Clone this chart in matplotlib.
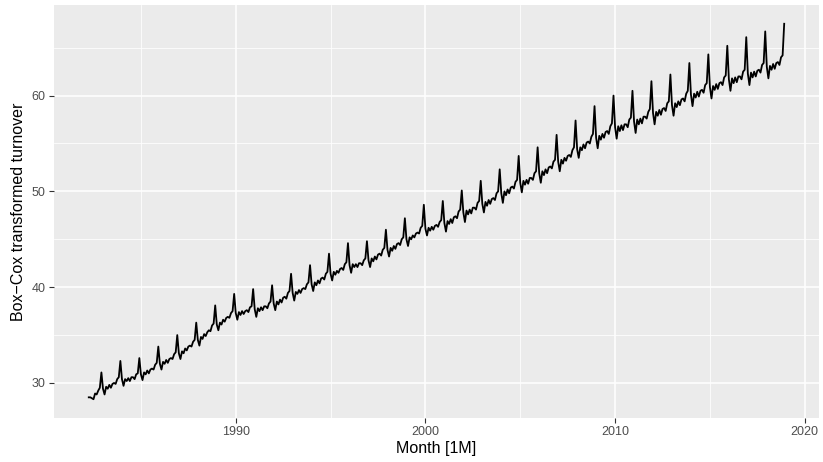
import matplotlib

matplotlib.use('Agg')

import matplotlib.pyplot as plt
import numpy as np

# monthly values, April 1982 to December 2018
first_year = 1982
first_month = 4
turnover = [
    28.5, 28.5, 28.4, 28.3, 28.9, 28.8, 29.2, 29.5, 31.1,                       # 1982 Apr-Dec
    29.4, 28.8, 29.6, 29.4, 29.8, 29.5, 29.9, 30.0, 29.9, 30.4, 30.6, 32.3,     # 1983
    30.4, 29.7, 30.4, 30.2, 30.5, 30.2, 30.6, 30.6, 30.4, 30.9, 31.0, 32.6,     # 1984
    30.9, 30.3, 31.1, 30.9, 31.3, 31.0, 31.4, 31.5, 31.4, 31.9, 32.1, 33.8,     # 1985
    32.0, 31.4, 32.2, 32.0, 32.4, 32.1, 32.5, 32.6, 32.5, 33.0, 33.2, 35.0,     # 1986
    33.1, 32.5, 33.3, 33.1, 33.6, 33.4, 33.8, 33.9, 33.8, 34.3, 34.5, 36.3,     # 1987
    34.5, 33.9, 34.8, 34.6, 35.1, 34.9, 35.3, 35.5, 35.4, 36.0, 36.2, 38.1,     # 1988
    36.1, 35.5, 36.3, 36.1, 36.6, 36.4, 36.8, 36.9, 36.8, 37.3, 37.5, 39.3,     # 1989
    37.3, 36.6, 37.4, 37.1, 37.5, 37.2, 37.5, 37.6, 37.4, 37.9, 38.0, 39.8,     # 1990
    37.7, 36.9, 37.8, 37.5, 37.9, 37.6, 38.0, 38.0, 37.8, 38.3, 38.5, 40.2,     # 1991
    38.3, 37.6, 38.5, 38.2, 38.7, 38.4, 38.9, 39.0, 38.8, 39.4, 39.6, 41.4,     # 1992
    39.4, 38.6, 39.5, 39.3, 39.7, 39.4, 39.8, 39.9, 39.8, 40.3, 40.5, 42.3,     # 1993
    40.3, 39.6, 40.5, 40.2, 40.7, 40.4, 40.9, 41.0, 40.8, 41.4, 41.6, 43.5,     # 1994
    41.4, 40.7, 41.6, 41.3, 41.7, 41.5, 41.9, 42.0, 41.8, 42.4, 42.6, 44.6,     # 1995
    42.3, 41.5, 42.4, 42.1, 42.4, 42.1, 42.5, 42.5, 42.3, 42.8, 43.0, 44.8,     # 1996
    42.8, 42.1, 43.0, 42.7, 43.2, 42.9, 43.4, 43.5, 43.3, 43.9, 44.1, 46.0,     # 1997
    43.9, 43.2, 44.1, 43.8, 44.3, 44.0, 44.5, 44.6, 44.4, 45.0, 45.2, 47.2,     # 1998
    45.0, 44.3, 45.2, 45.0, 45.4, 45.2, 45.6, 45.7, 45.6, 46.2, 46.4, 48.6,     # 1999
    46.1, 45.4, 46.2, 45.9, 46.3, 46.0, 46.4, 46.5, 46.3, 46.8, 47.0, 49.0,     # 2000
    46.7, 45.8, 46.9, 46.6, 47.1, 46.7, 47.3, 47.4, 47.2, 47.9, 48.1, 50.1,     # 2001
    47.8, 46.8, 48.0, 47.6, 48.1, 47.7, 48.3, 48.3, 48.1, 48.8, 49.0, 51.1,     # 2002
    48.7, 47.8, 48.9, 48.5, 49.1, 48.7, 49.2, 49.3, 49.1, 49.8, 50.0, 52.3,     # 2003
    49.8, 48.8, 50.0, 49.6, 50.2, 49.8, 50.4, 50.5, 50.3, 51.0, 51.2, 53.7,     # 2004
    50.9, 49.9, 51.1, 50.7, 51.2, 50.8, 51.4, 51.4, 51.2, 51.9, 52.1, 54.6,     # 2005
    51.9, 50.9, 52.1, 51.7, 52.3, 51.9, 52.5, 52.6, 52.4, 53.1, 53.3, 55.9,     # 2006
    53.1, 52.1, 53.3, 52.9, 53.5, 53.2, 53.7, 53.8, 53.6, 54.3, 54.6, 57.4,     # 2007
    54.4, 53.5, 54.6, 54.3, 54.9, 54.5, 55.1, 55.2, 55.0, 55.7, 56.0, 58.9,     # 2008
    55.6, 54.5, 55.8, 55.4, 56.0, 55.6, 56.2, 56.3, 56.0, 56.8, 57.1, 60.0,     # 2009
    56.7, 55.5, 56.8, 56.3, 56.9, 56.4, 57.0, 57.0, 56.7, 57.5, 57.7, 60.5,     # 2010
    57.3, 56.1, 57.5, 57.0, 57.6, 57.1, 57.8, 57.8, 57.6, 58.3, 58.6, 61.5,     # 2011
    58.2, 57.0, 58.3, 57.9, 58.5, 58.0, 58.6, 58.7, 58.4, 59.2, 59.4, 62.2,     # 2012
    59.0, 57.9, 59.2, 58.8, 59.4, 59.0, 59.6, 59.7, 59.4, 60.2, 60.5, 63.4,     # 2013
    60.1, 58.9, 60.2, 59.8, 60.4, 59.9, 60.5, 60.6, 60.3, 61.1, 61.3, 64.3,     # 2014
    60.9, 59.7, 61.0, 60.6, 61.2, 60.7, 61.3, 61.4, 61.1, 61.9, 62.1, 65.2,     # 2015
    61.7, 60.5, 61.8, 61.3, 61.9, 61.4, 62.0, 62.0, 61.7, 62.5, 62.7, 66.1,     # 2016
    62.3, 61.1, 62.4, 61.9, 62.5, 62.0, 62.6, 62.7, 62.4, 63.2, 63.4, 66.7,     # 2017
    63.0, 61.8, 63.1, 62.7, 63.3, 62.8, 63.4, 63.5, 63.2, 64.0, 64.2, 67.5,     # 2018
]

x_ticks = [1990, 2000, 2010, 2020]
x_minor = [1985, 1995, 2005, 2015]
y_ticks = [30, 40, 50, 60]
y_minor = [35, 45, 55, 65]

months = first_year + (first_month - 1 + np.arange(len(turnover))) / 12.0

plt.rcParams['font.family'] = ['Liberation Sans', 'DejaVu Sans']

fig = plt.figure(figsize=(8.23, 4.62), dpi=100)
ax = fig.add_axes([0.0656, 0.0952, 0.9295, 0.8940])
ax.set_facecolor('#EBEBEB')
for s in ax.spines.values():
    s.set_visible(False)

ax.plot(months, turnover, color='black', lw=1.3, zorder=3)

# ggplot-like default expansion (5%)
xr = months[-1] - months[0]
ax.set_xlim(months[0] - 0.05 * xr, months[-1] + 0.05 * xr)
yr = max(turnover) - min(turnover)
ax.set_ylim(min(turnover) - 0.05 * yr, max(turnover) + 0.05 * yr)

ax.set_xticks(x_ticks)
ax.set_xticks(x_minor, minor=True)
ax.set_yticks(y_ticks)
ax.set_yticks(y_minor, minor=True)
ax.grid(which='major', color='white', lw=1.1, zorder=0)
ax.grid(which='minor', color='white', lw=0.55, zorder=0)
ax.set_axisbelow(True)
ax.tick_params(which='major', length=3.5, width=0.8, color='#333333',
               labelsize=9, labelcolor='#4D4D4D', pad=2.5)
ax.tick_params(which='minor', length=0)

ax.set_xlabel('Month [1M]', fontsize=11.5, labelpad=2)
ax.set_ylabel('Box\u2212Cox transformed turnover', fontsize=11.5, labelpad=4)

fig.savefig('out.png', dpi=100)
